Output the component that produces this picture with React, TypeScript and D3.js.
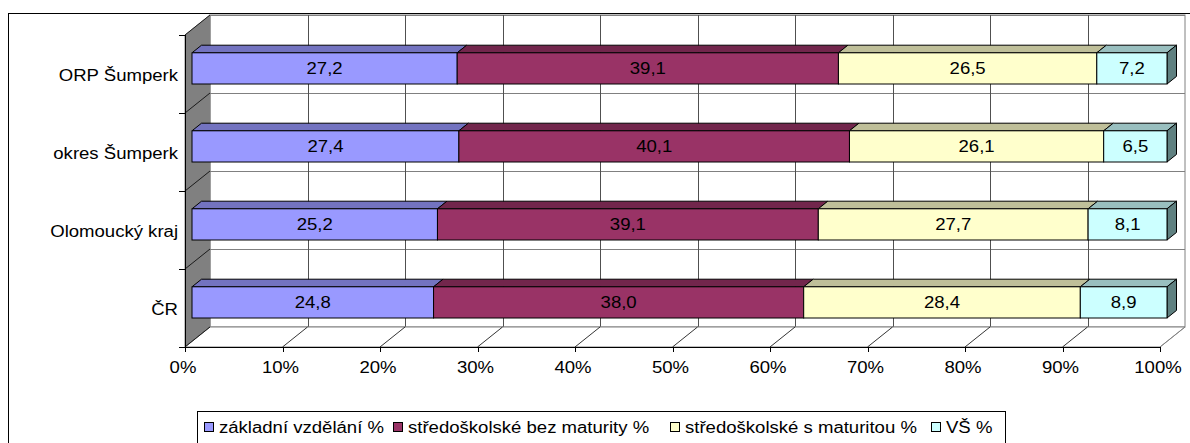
import React, {useRef, useEffect} from 'react'
import * as d3 from 'd3'

const categories = ['ORP Šumperk', 'okres Šumperk', 'Olomoucký kraj', 'ČR']
const seriesNames = [
  'základní vzdělání %',
  'středoškolské bez maturity %',
  'středoškolské s maturitou %',
  'VŠ %',
]
const zakladni = [27.2, 27.4, 25.2, 24.8]
const bezMaturity = [39.1, 40.1, 39.1, 38.0]
const sMaturitou = [26.5, 26.1, 27.7, 28.4]
const vs = [7.2, 6.5, 8.1, 8.9]
const xTicks = [0, 0.1, 0.2, 0.3, 0.4, 0.5, 0.6, 0.7, 0.8, 0.9, 1]

const frontColors = ['#9999FF', '#993366', '#FFFFCC', '#CCFFFF']
const topColors = ['#7373C0', '#72264C', '#BFBF99', '#99BFBF']
const sideColor = '#5F8080'

const FONT = '"Liberation Sans", Arial, sans-serif'
const SX = 1.16 // the reference text is drawn a bit wide

function App() {
  const ref: any = useRef<SVGSVGElement>(null)

  useEffect(() => {
    const svg = d3.select(ref.current)
    svg.selectAll('*').remove()

    // front plane of the plot and depth of the 3D box
    const left = 185
    const right = 1160
    const top = 35
    const bottom = 347
    const DX = 25
    const DY = -20
    const barFront = 0.28
    const barBack = 0.66

    const x = d3.scaleLinear().domain([0, 1]).range([left, right])
    const y = d3.scaleBand().domain(categories).range([top, bottom]).paddingInner(0).paddingOuter(0)

    const rows = categories.map((c, i) => ({
      cat: c,
      s0: zakladni[i],
      s1: bezMaturity[i],
      s2: sMaturitou[i],
      s3: vs[i],
    }))
    const keys = ['s0', 's1', 's2', 's3']
    const stacked = d3.stack<any>().keys(keys).offset(d3.stackOffsetExpand)(rows)

    const text = (
      g: any,
      tx: number,
      ty: number,
      str: string,
      anchor: string,
    ) => {
      g.append('text')
        .attr('transform', `translate(${tx},${ty}) scale(${SX},1)`)
        .attr('text-anchor', anchor)
        .attr('font-family', FONT)
        .attr('font-size', 16)
        .attr('fill', '#000')
        .text(str)
    }

    // outer chart border
    svg
      .append('rect')
      .attr('x', 8.5)
      .attr('y', 13.5)
      .attr('width', 1200)
      .attr('height', 460)
      .attr('fill', '#fff')
      .attr('stroke', '#000')

    const walls = svg.append('g')

    // back wall
    walls
      .append('rect')
      .attr('x', left + DX)
      .attr('y', top + DY)
      .attr('width', right - left)
      .attr('height', bottom - top)
      .attr('fill', '#fff')
      .attr('stroke', '#808080')

    // category separators on back wall
    categories.forEach(c => {
      const yy = (y(c) as number) + DY
      walls
        .append('line')
        .attr('x1', left + DX)
        .attr('x2', right + DX)
        .attr('y1', yy + 0.5)
        .attr('y2', yy + 0.5)
        .attr('stroke', '#808080')
    })
    walls
      .append('line')
      .attr('x1', left + DX)
      .attr('x2', right + DX)
      .attr('y1', bottom + DY + 0.5)
      .attr('y2', bottom + DY + 0.5)
      .attr('stroke', '#808080')

    // vertical gridlines on back wall
    xTicks.slice(1, -1).forEach(t => {
      const xx = Math.round(x(t) + DX) + 0.5
      walls
        .append('line')
        .attr('x1', xx)
        .attr('x2', xx)
        .attr('y1', top + DY)
        .attr('y2', bottom + DY)
        .attr('stroke', '#505050')
    })

    // left wall
    walls
      .append('polygon')
      .attr(
        'points',
        [
          [left, top],
          [left + DX, top + DY],
          [left + DX, bottom + DY],
          [left, bottom],
        ]
          .map(p => p.join(','))
          .join(' '),
      )
      .attr('fill', '#808080')
      .attr('stroke', '#808080')

    // left wall diagonals and ticks
    const bounds = categories.map(c => y(c) as number).concat([bottom])
    bounds.forEach(b => {
      walls
        .append('line')
        .attr('x1', left)
        .attr('y1', b)
        .attr('x2', left + DX)
        .attr('y2', b + DY)
        .attr('stroke', '#000')
        .attr('stroke-width', 0.8)
      walls
        .append('line')
        .attr('x1', left - 6)
        .attr('x2', left)
        .attr('y1', b + 0.5)
        .attr('y2', b + 0.5)
        .attr('stroke', '#000')
    })

    // floor
    walls
      .append('polygon')
      .attr(
        'points',
        [
          [left, bottom],
          [left + DX, bottom + DY],
          [right + DX, bottom + DY],
          [right, bottom],
        ]
          .map(p => p.join(','))
          .join(' '),
      )
      .attr('fill', '#fff')
      .attr('stroke', '#808080')
    xTicks.forEach(t => {
      const xx = x(t)
      walls
        .append('line')
        .attr('x1', xx)
        .attr('y1', bottom)
        .attr('x2', xx + DX)
        .attr('y2', bottom + DY)
        .attr('stroke', t === 1 ? '#808080' : '#000')
        .attr('stroke-width', 0.8)
      walls
        .append('line')
        .attr('x1', Math.round(xx) + 0.5)
        .attr('x2', Math.round(xx) + 0.5)
        .attr('y1', bottom)
        .attr('y2', bottom + 5)
        .attr('stroke', '#000')
    })
    // axis lines
    walls
      .append('line')
      .attr('x1', left)
      .attr('x2', right)
      .attr('y1', bottom + 0.5)
      .attr('y2', bottom + 0.5)
      .attr('stroke', '#000')
    walls
      .append('line')
      .attr('x1', left + 0.5)
      .attr('x2', left + 0.5)
      .attr('y1', top)
      .attr('y2', bottom)
      .attr('stroke', '#000')

    // bars
    const bars = svg.append('g')
    const bh = y.bandwidth() * 0.4
    const fdx = DX * barFront
    const fdy = DY * barFront
    const ddx = DX * (barBack - barFront)
    const ddy = DY * (barBack - barFront)

    categories.forEach((c, ci) => {
      const cy = (y(c) as number) + y.bandwidth() / 2 + fdy
      const y0 = cy - bh / 2
      const y1 = cy + bh / 2
      stacked.forEach((layer, si) => {
        const d = layer[ci]
        const xa = x(d[0]) + fdx
        const xb = x(d[1]) + fdx
        // top face
        bars
          .append('polygon')
          .attr(
            'points',
            [
              [xa, y0],
              [xa + ddx, y0 + ddy],
              [xb + ddx, y0 + ddy],
              [xb, y0],
            ]
              .map(p => p.join(','))
              .join(' '),
          )
          .attr('fill', topColors[si])
          .attr('stroke', '#000')
          .attr('stroke-linejoin', 'round')
        if (si === stacked.length - 1) {
          bars
            .append('polygon')
            .attr(
              'points',
              [
                [xb, y0],
                [xb + ddx, y0 + ddy],
                [xb + ddx, y1 + ddy],
                [xb, y1],
              ]
                .map(p => p.join(','))
                .join(' '),
            )
            .attr('fill', sideColor)
            .attr('stroke', '#000')
            .attr('stroke-linejoin', 'round')
        }
        bars
          .append('rect')
          .attr('x', xa)
          .attr('y', y0)
          .attr('width', xb - xa)
          .attr('height', bh)
          .attr('fill', frontColors[si])
          .attr('stroke', '#000')
      })
    })

    // data labels
    const fmt = (v: number) => d3.format('.1f')(v).replace('.', ',')
    const labels = svg.append('g')
    categories.forEach((c, ci) => {
      const cy = (y(c) as number) + y.bandwidth() / 2 + fdy
      stacked.forEach(layer => {
        const d = layer[ci]
        const raw = (d.data as any)[layer.key]
        const mx = (x(d[0]) + x(d[1])) / 2 + fdx
        text(labels, mx, cy + 6, fmt(raw), 'middle')
      })
    })

    // category labels
    const catG = svg.append('g')
    categories.forEach(c => {
      const cy = (y(c) as number) + y.bandwidth() / 2
      text(catG, 178, cy + 7, c, 'end')
    })

    // x tick labels
    const tickG = svg.append('g')
    xTicks.forEach(t => {
      text(tickG, x(t) - 2, 373, d3.format('.0%')(t), 'middle')
    })

    // legend
    const leg = svg.append('g')
    leg
      .append('rect')
      .attr('x', 197.5)
      .attr('y', 411.5)
      .attr('width', 808)
      .attr('height', 34)
      .attr('fill', '#fff')
      .attr('stroke', '#000')
    const legX = [204, 393, 670, 931]
    seriesNames.forEach((n, i) => {
      leg
        .append('rect')
        .attr('x', legX[i] + 0.5)
        .attr('y', 422.5)
        .attr('width', 9)
        .attr('height', 9)
        .attr('fill', frontColors[i])
        .attr('stroke', '#000')
      text(leg, legX[i] + 15, 433, n, 'start')
    })
  }, [])

  return (
    <svg
      ref={ref}
      width={1190}
      height={443}
      style={{position: 'absolute', left: 0, top: 0, background: '#fff'}}
    />
  )
}

export default App
